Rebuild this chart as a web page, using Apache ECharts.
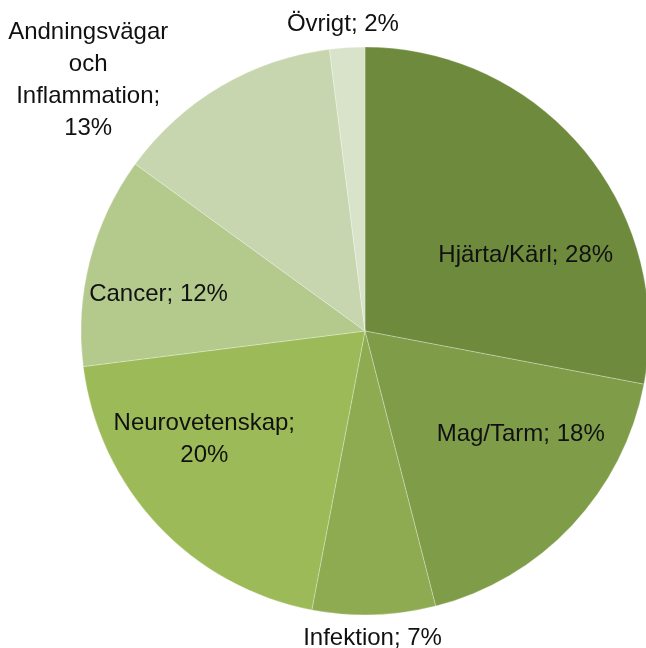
<!DOCTYPE html>
<html>
<head>
<meta charset="utf-8">
<script src="https://cdn.jsdelivr.net/npm/echarts@6/dist/echarts.min.js"></script>
<style>html,body{margin:0;padding:0;background:#fff}#c{width:646px;height:648px}</style>
</head>
<body>
<div id="c"></div>
<script>
const categories = ['Hjärta/Kärl', 'Mag/Tarm', 'Infektion', 'Neurovetenskap', 'Cancer', 'Andningsvägar och Inflammation', 'Övrigt'];
const labelNames = ['Hjärta/Kärl', 'Mag/Tarm', 'Infektion', 'Neurovetenskap;\n', 'Cancer', 'Andningsvägar\noch\nInflammation;\n', 'Övrigt'];
const values = [28, 18, 7, 20, 12, 13, 2];
const colors = ['#6E8B3D', '#7F9D49', '#8FAB52', '#9CBB58', '#B3CA8C', '#C7D6AE', '#D9E3C9'];
const labelOffsets = [[49, 17], [50, 4], [3, 162], [-55, 9], [-66, -1], [-203, -126], [-13, -162]];

const chart = echarts.init(document.getElementById('c'));
chart.setOption({
  animation: false,
  series: [{
    type: 'pie',
    center: [365, 331],
    radius: 284,
    startAngle: 90,
    clockwise: true,
    label: {
      show: true,
      position: 'inside',
      fontFamily: 'Liberation Sans',
      fontSize: 24,
      lineHeight: 32,
      color: '#111',
      align: 'center',
      formatter: function (p) {
        const n = labelNames[p.dataIndex];
        return n.endsWith('\n') ? n + p.value + '%' : n + '; ' + p.value + '%';
      }
    },
    labelLine: { show: false },
    labelLayout: function (p) {
      const o = labelOffsets[p.dataIndex];
      return { dx: o[0], dy: o[1] };
    },
    itemStyle: { borderColor: 'rgba(255,255,255,0.45)', borderWidth: 0.6 },
    data: categories.map((c, i) => ({ name: c, value: values[i], itemStyle: { color: colors[i] } }))
  }]
});
</script>
</body>
</html>
